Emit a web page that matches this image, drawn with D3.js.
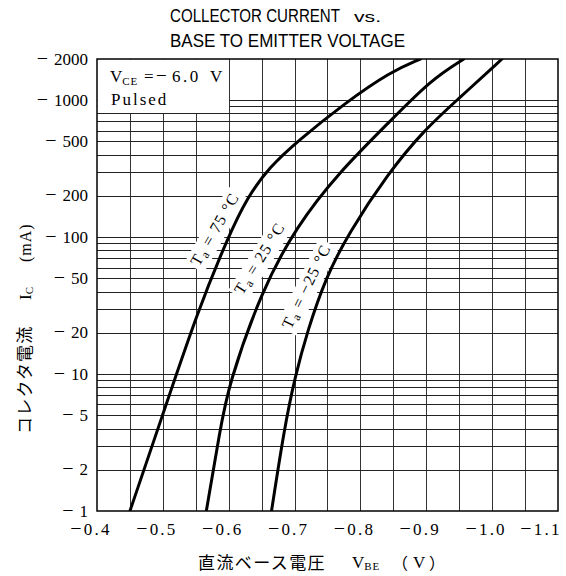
<!DOCTYPE html>
<html><head><meta charset="utf-8">
<script src="https://cdn.jsdelivr.net/npm/d3@7"></script>
<style>body{margin:0;background:#fff}</style>
</head><body>
<svg id="c" width="566" height="576" xmlns="http://www.w3.org/2000/svg"></svg>
<script>
// ---- data ----
const xTicks = [-0.4, -0.5, -0.6, -0.7, -0.8, -0.9, -1.0, -1.1];
const xTickLabels = ["0.4", "0.5", "0.6", "0.7", "0.8", "0.9", "1.0", "1.1"];
const yTicks = [2000, 1000, 500, 200, 100, 50, 20, 10, 5, 2, 1];
const yTickLabels = ["2000", "1000", "500", "200", "100", "50", "20", "10", "5", "2", "1"];
const seriesNames = ["75", "25", "−25"];
const vbe75 = [-0.450, -0.497, -0.553, -0.599, -0.628, -0.662, -0.704, -0.776, -0.846, -0.891];
const ic75  = [1, 4.6, 29, 100, 195, 325, 500, 950, 1620, 2000];
const vbe25 = [-0.566, -0.587, -0.599, -0.649, -0.703, -0.766, -0.847, -0.907, -0.957];
const ic25  = [1, 3.9, 8.1, 40, 120, 293, 718, 1407, 2000];
const vbeM25 = [-0.665, -0.684, -0.700, -0.720, -0.747, -0.781, -0.842, -0.897, -0.947, -1.015];
const icM25  = [1, 3.9, 9.3, 21, 50, 105, 293, 607, 1005, 2000];
// label anchors in data coordinates (V, mA)
const labelV = [-0.578, -0.646, -0.717];
const labelI = [115, 70.5, 44];

const series = [
  {name: seriesNames[0], v: vbe75, i: ic75, lv: labelV[0], li: labelI[0], ang: -60},
  {name: seriesNames[1], v: vbe25, i: ic25, lv: labelV[1], li: labelI[1], ang: -58},
  {name: seriesNames[2], v: vbeM25, i: icM25, lv: labelV[2], li: labelI[2], ang: -64}
];

// ---- layout ----
const L = 97, R = 558, T = 59, B = 511;
const x = d3.scaleLinear().domain([-0.4, -1.1]).range([L, R]);
const y = d3.scaleLog().domain([1, 2000]).range([B, T]);
const svg = d3.select("#c");
const serif = "'Liberation Serif','DejaVu Serif',serif";
const sans = "'Liberation Sans',Arial,sans-serif";
const cjk = "'Noto Sans CJK JP',sans-serif";

// grid
const vGrid = d3.range(1, 14).map(k => -0.4 - k * 0.05);
svg.append("g").selectAll("line").data(vGrid).join("line")
  .attr("x1", d => Math.round(x(d)) + 0.5).attr("x2", d => Math.round(x(d)) + 0.5)
  .attr("y1", T).attr("y2", B).attr("stroke", "#333").attr("stroke-width", 1);
const hGrid = [];
[1, 10, 100, 1000].forEach(dec => { for (let m = 1; m <= 9; m++) { const v = m * dec; if (v > 1 && v < 2000) hGrid.push(v); } });
svg.append("g").selectAll("line").data(hGrid).join("line")
  .attr("x1", L).attr("x2", R)
  .attr("y1", d => Math.round(y(d)) + 0.5).attr("y2", d => Math.round(y(d)) + 0.5)
  .attr("stroke", "#222").attr("stroke-width", 1);

// legend blank box
svg.append("rect").attr("x", L + 0.5).attr("y", T + 0.5)
  .attr("width", Math.round(x(-0.6)) - L - 0.5).attr("height", Math.round(y(800)) - T - 0.5)
  .attr("fill", "#fff");
const legY = 82;
const lv = svg.append("text").attr("x", 110).attr("y", legY).attr("font-family", serif).attr("font-size", 17);
lv.append("tspan").text("V");
lv.append("tspan").attr("font-size", 11).attr("dy", 3).attr("letter-spacing", 1).text("CE");
svg.append("text").attr("x", 144).attr("y", legY).attr("font-family", serif).attr("font-size", 17).text("=");
svg.append("text").attr("x", 156).attr("y", legY).attr("font-family", serif).attr("font-size", 19).text("−");
svg.append("text").attr("x", 172).attr("y", legY).attr("font-family", serif).attr("font-size", 17)
  .attr("letter-spacing", 2.5).text("6.0");
svg.append("text").attr("x", 210).attr("y", legY).attr("font-family", serif).attr("font-size", 17).text("V");
svg.append("text").attr("x", 111).attr("y", 105).attr("font-family", serif)
  .attr("font-size", 17).attr("letter-spacing", 2).text("Pulsed");

// curve labels with white backgrounds
series.forEach(s => {
  const g = svg.append("g").attr("transform", `translate(${x(s.lv)},${y(s.li)}) rotate(${s.ang})`);
  const t = g.append("text").attr("text-anchor", "middle").attr("y", 6)
    .attr("font-family", serif).attr("font-size", 16).attr("letter-spacing", 1.2);
  t.append("tspan").text("T");
  t.append("tspan").attr("font-size", 12).attr("dy", 3).text("a");
  t.append("tspan").attr("dy", -3).text(" = " + s.name + " °C");
  const bb = t.node().getBBox();
  g.insert("rect", "text").attr("x", bb.x - 3).attr("y", bb.y - 1)
    .attr("width", bb.width + 6).attr("height", bb.height + 2).attr("fill", "#fff");
});

// curves
svg.append("clipPath").attr("id", "clip").append("rect")
  .attr("x", L).attr("y", T).attr("width", R - L).attr("height", B - T);
const line = d3.line().x(d => x(d[0])).y(d => y(d[1])).curve(d3.curveBasis);
svg.append("g").attr("clip-path", "url(#clip)").selectAll("path").data(series).join("path")
  .attr("d", s => line(s.v.map((v, k) => [v, s.i[k]])))
  .attr("fill", "none").attr("stroke", "#000").attr("stroke-width", 3)
  .attr("stroke-linecap", "round");

// border
svg.append("rect").attr("x", L).attr("y", T).attr("width", R - L).attr("height", B - T)
  .attr("fill", "none").attr("stroke", "#000").attr("stroke-width", 1.5);

// y tick labels
yTicks.forEach((v, k) => {
  const t = svg.append("text").attr("x", 88).attr("y", y(v) + 5.5).attr("text-anchor", "end")
    .attr("font-family", serif).attr("font-size", 17);
  t.append("tspan").attr("font-size", 20).text("−");
  t.append("tspan").attr("dx", 6).text(yTickLabels[k]);
});
// x tick labels
xTicks.forEach((v, k) => {
  const cx = Math.min(x(v) - 6, 541);
  const t = svg.append("text").attr("x", cx).attr("y", 535).attr("text-anchor", "middle")
    .attr("font-family", serif).attr("font-size", 17).attr("letter-spacing", 2.2);
  t.append("tspan").attr("font-size", 20).text("−");
  t.append("tspan").text(xTickLabels[k]);
});

// title
svg.append("text").attr("x", 170).attr("y", 22).attr("font-family", sans).attr("font-size", 18)
  .attr("textLength", 170).attr("lengthAdjust", "spacingAndGlyphs")
  .text("COLLECTOR CURRENT");
svg.append("text").attr("x", 354).attr("y", 22).attr("font-family", sans).attr("font-size", 14)
  .attr("textLength", 27).attr("lengthAdjust", "spacingAndGlyphs").text("vs.");
svg.append("text").attr("x", 170).attr("y", 47).attr("font-family", sans).attr("font-size", 18)
  .attr("textLength", 235).attr("lengthAdjust", "spacingAndGlyphs")
  .text("BASE TO EMITTER VOLTAGE");

// x axis title
svg.append("text").attr("x", 198).attr("y", 569).attr("font-family", cjk).attr("font-size", 17)
  .attr("letter-spacing", 1.4).text("直流ベース電圧");
const xv = svg.append("text").attr("x", 352).attr("y", 568).attr("font-family", serif).attr("font-size", 17);
xv.append("tspan").text("V");
xv.append("tspan").attr("font-size", 11).attr("dy", 2).attr("letter-spacing", 1).text("BE");
svg.append("text").attr("x", 392).attr("y", 569).attr("font-family", cjk).attr("font-size", 16).text("（");
svg.append("text").attr("x", 413).attr("y", 568).attr("font-family", serif).attr("font-size", 17).text("V");
svg.append("text").attr("x", 429).attr("y", 569).attr("font-family", cjk).attr("font-size", 16).text("）");

// y axis title (rotated)
const yt = svg.append("g").attr("transform", "translate(31,434) rotate(-90)");
yt.append("text").attr("x", 0).attr("y", 0).attr("font-family", cjk).attr("font-size", 17)
  .attr("letter-spacing", 1.2).text("コレクタ電流");
const ic = yt.append("text").attr("x", 134).attr("y", 0).attr("font-family", serif).attr("font-size", 17);
ic.append("tspan").text("I");
ic.append("tspan").attr("font-size", 11).attr("dy", 2).text("C");
yt.append("text").attr("x", 172).attr("y", 0).attr("font-family", serif).attr("font-size", 16)
  .attr("letter-spacing", 1).text("(mA)");
</script>
</body></html>
